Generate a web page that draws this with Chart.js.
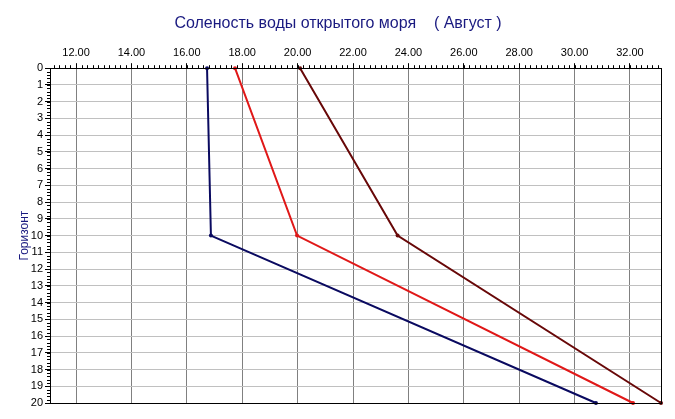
<!DOCTYPE html>
<html>
<head>
<meta charset="utf-8">
<script src="https://cdn.jsdelivr.net/npm/chart.js@4/dist/chart.umd.min.js"></script>
<style>
  html, body { margin: 0; padding: 0; background: #fff; }
  #wrap { width: 675px; height: 419px; }
</style>
</head>
<body>
<div id="wrap"><canvas id="chart" width="675" height="419"></canvas></div>
<script>
// Соленость воды открытого моря (Август)
const DEPTHS = [0, 10, 20];
const SAL_BLUE = [16.73, 16.87, 30.77];
const SAL_RED = [17.74, 19.98, 32.11];
const SAL_MAROON = [20.09, 23.61, 33.12];
const X_TICKS = [12, 14, 16, 18, 20, 22, 24, 26, 28, 30, 32];
const X_MIN = 11.06, X_MAX = 33.12;

const FONT = 'Liberation Sans, Arial, sans-serif';

const pts = (vals) => vals.map((v, i) => ({ x: v, y: DEPTHS[i] }));

function series(vals, color) {
  return {
    data: pts(vals),
    borderColor: color,
    backgroundColor: color,
    borderWidth: 2,
    pointRadius: 2,
    pointBorderWidth: 0,
    tension: 0,
    clip: 4,
  };
}

// frame + minor ticks
const frame = {
  id: 'frame',
  afterDraw(chart) {
    const { ctx, chartArea: a, scales: { x, y } } = chart;
    ctx.save();
    ctx.strokeStyle = '#000';
    ctx.lineWidth = 1;
    ctx.beginPath();
    for (let v = 11.2; v < X_MAX; v += 0.2) {
      const px = Math.round(x.getPixelForValue(v)) + 0.5;
      ctx.moveTo(px, a.top - 3);
      ctx.lineTo(px, a.top);
    }
    for (let v = 0; v <= 20.001; v += 0.2) {
      const py = Math.round(y.getPixelForValue(v)) + 0.5;
      ctx.moveTo(a.left - 3, py);
      ctx.lineTo(a.left, py);
    }
    ctx.stroke();
    ctx.strokeRect(Math.round(a.left) + 0.5, Math.round(a.top) + 0.5,
      Math.round(a.right - a.left), Math.round(a.bottom - a.top));
    ctx.restore();
  }
};

new Chart(document.getElementById('chart'), {
  type: 'line',
  data: {
    datasets: [
      series(SAL_BLUE, '#0a0a60'),
      series(SAL_RED, '#e01818'),
      series(SAL_MAROON, '#680808'),
    ]
  },
  options: {
    responsive: false,
    animation: false,
    layout: { padding: { left: 15, right: 14, top: 0, bottom: 16 } },
    plugins: {
      legend: { display: false },
      tooltip: { enabled: false },
      title: {
        display: true,
        text: 'Соленость воды открытого моря    ( Август )',
        color: '#1a1a80',
        font: { family: FONT, size: 16, weight: 'normal' },
        padding: { top: 14, bottom: 0 },
      },
    },
    scales: {
      x: {
        type: 'linear',
        position: 'top',
        min: X_MIN,
        max: X_MAX,
        afterBuildTicks: (s) => { s.ticks = X_TICKS.map(v => ({ value: v })); },
        afterFit: (s) => { s.height = 35; },
        grid: { color: '#808080', tickColor: '#000', tickLength: 5, lineWidth: 1 },
        border: { display: false },
        ticks: {
          color: '#000',
          padding: 4,
          font: { family: FONT, size: 11 },
          callback: (v) => Number(v).toFixed(2),
        },
      },
      y: {
        type: 'linear',
        reverse: true,
        min: 0,
        max: 20,
        afterFit: (s) => { s.width = 35; },
        grid: { color: '#c0c0c0', tickColor: '#000', tickLength: 5, lineWidth: 1 },
        border: { display: false },
        ticks: {
          stepSize: 1,
          color: '#000',
          padding: 2,
          font: { family: FONT, size: 11 },
        },
        title: {
          display: true,
          text: 'Горизонт',
          color: '#1a1a80',
          font: { family: FONT, size: 12 },
          padding: { top: 2, bottom: 0 },
        },
      },
    },
  },
  plugins: [frame],
});
</script>
</body>
</html>
